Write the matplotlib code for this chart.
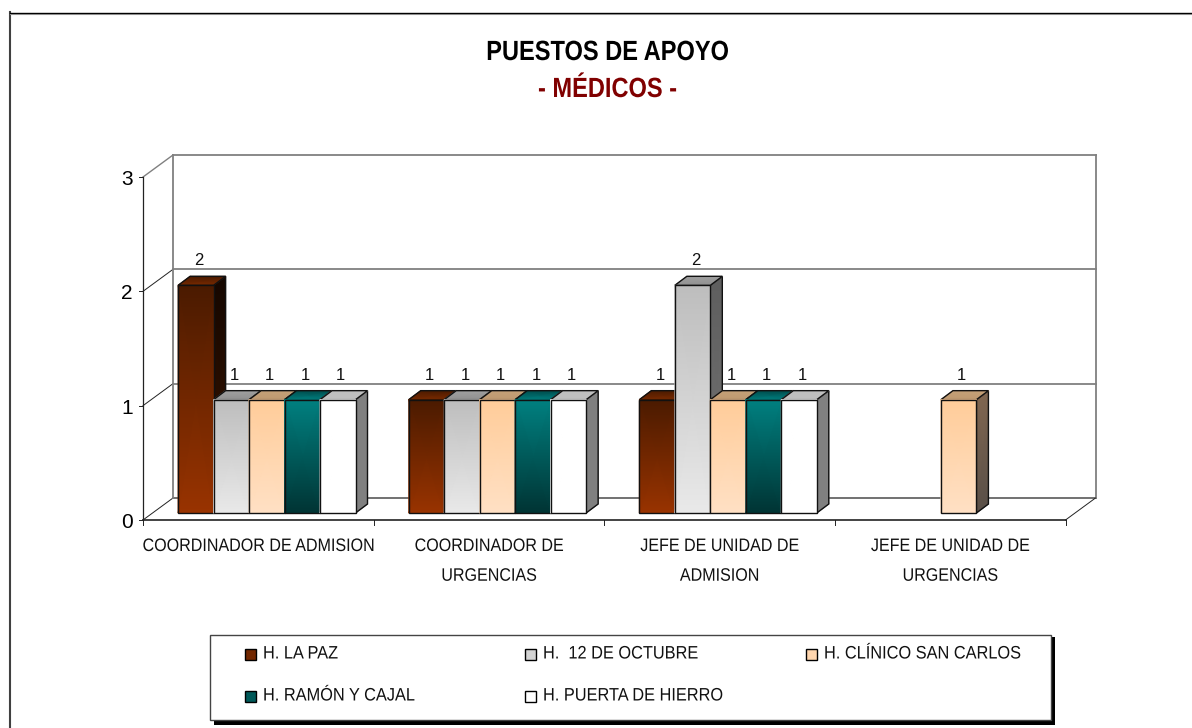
import numpy as np
import matplotlib
matplotlib.use('Agg')
import matplotlib.pyplot as plt
from matplotlib.colors import LinearSegmentedColormap
from matplotlib.patches import Polygon, Rectangle
from matplotlib.patheffects import AbstractPathEffect
from matplotlib.transforms import Affine2D, IdentityTransform, ScaledTranslation

plt.rcParams['font.family'] = ['Liberation Sans', 'DejaVu Sans']

categorias = ['COORDINADOR DE ADMISION', 'COORDINADOR DE\nURGENCIAS',
              'JEFE DE UNIDAD DE\nADMISION', 'JEFE DE UNIDAD DE\nURGENCIAS']
hospitales = ['H. LA PAZ', 'H.  12 DE OCTUBRE', 'H. CLÍNICO SAN CARLOS',
              'H. RAMÓN Y CAJAL', 'H. PUERTA DE HIERRO']
la_paz = [2, 1, 1, 0]
doce_octubre = [1, 1, 2, 0]
clinico = [1, 1, 1, 1]
ramon_cajal = [1, 1, 1, 0]
puerta_hierro = [1, 1, 1, 0]
series = [la_paz, doce_octubre, clinico, ramon_cajal, puerta_hierro]

# colores: frente (arriba, abajo), lado (arriba, abajo), tapa (atras, delante)
estilos = [
    (('#4a1a00', '#993300'), ('#160700', '#3a1400'), ('#4a1a00', '#7a2a00')),
    (('#bdbdbd', '#e9e9e9'), ('#5f5f5f', '#737373'), ('#a0a0a0', '#909090')),
    (('#ffcc99', '#ffe0c4'), ('#806650', '#5a5048'), ('#c4a078', '#bf9970')),
    (('#008080', '#003333'), ('#003f3f', '#001919'), ('#004a4a', '#008080')),
    (('#ffffff', '#ffffff'), ('#808080', '#808080'), ('#bfbfbf', '#bfbfbf')),
]

W, H = 1192, 728


class Estrecho(AbstractPathEffect):
    # letra estrecha: escala en x alrededor de xc (en pixeles)
    def __init__(self, xc, f):
        super().__init__()
        self.xc = xc
        self.f = f

    def draw_path(self, renderer, gc, tpath, affine, rgbFace=None):
        t = affine + Affine2D().translate(-self.xc, 0).scale(self.f, 1).translate(self.xc, 0)
        renderer.draw_path(gc, tpath, t, rgbFace)


fig = plt.figure(figsize=(W / 100, H / 100), dpi=100)

# marco: solo izquierda y arriba
fig.add_artist(plt.Line2D([10 / W, 10 / W], [0, 1 - 12 / H], color='#404040', lw=1.5))
fig.add_artist(plt.Line2D([10 / W, 1], [1 - 13.5 / H, 1 - 13.5 / H], color='#b0b0b0', lw=0.8))
fig.add_artist(plt.Line2D([10 / W, 1], [1 - 12.5 / H, 1 - 12.5 / H], color='black', lw=1))

ax = fig.add_axes([143 / W, 1 - 520 / H, 922.5 / W, 343 / H])
ax.set_xlim(0, 4)
ax.set_ylim(0, 3)
ax.axis('off')


def px(x, v, dx=0, dy=0):
    p = ax.transData.transform((x, v))
    return p[0] + dx, p[1] + dy


def linea(a, b, color, lw):
    ax.add_line(plt.Line2D([a[0], b[0]], [a[1], b[1]], color=color, lw=lw, zorder=1, clip_on=False,
                           transform=IdentityTransform(), solid_capstyle='projecting'))


def mover(dx, dy):
    return ScaledTranslation(dx / 100, dy / 100, fig.dpi_scale_trans)


# paredes
fondo = (30, 22)
gris = '#808080'
for v in range(4):
    linea(px(0, v, *fondo), px(4, v, *fondo), '#666666' if v == 0 else gris, 1.3)
    linea(px(0, v), px(0, v, *fondo), gris if v == 3 else '#222222', 1.0 if v == 3 else 0.7)
    linea(px(0, v), px(0, v, -4, 0), '#222222', 0.7)
    ax.text(0, v, str(v), transform=ax.transData + mover(-10, -2.5),
            ha='right', va='center', fontsize=15)
linea(px(0, 0, *fondo), px(0, 3, *fondo), gris, 1.3)
linea(px(4, 0, *fondo), px(4, 3, *fondo), gris, 1.3)
linea(px(0, 0), px(0, 3), '#222222', 0.9)
linea(px(4, 0), px(4, 0, *fondo), '#222222', 0.7)

# barras
ancho = 35.5 / (923 / 4)
desp = 8.5 / (923 / 4)
depth = (12, 9)
base = (0, 7)
for i, valores in enumerate(series):
    frente, lado, tapa = estilos[i]
    z = 3 + i
    for j, v in enumerate(valores):
        if v == 0:
            continue
        x0 = j + 0.5 + desp + (i - 2.5) * ancho
        x1 = x0 + ancho
        a = px(x0, 0, *base)
        b = px(x1, 0, *base)
        c = px(x1, v, 0, 6)
        d = px(x0, v, 0, 6)
        b2 = (b[0] + depth[0], b[1] + depth[1])
        c2 = (c[0] + depth[0], c[1] + depth[1])
        d2 = (d[0] + depth[0], d[1] + depth[1])
        caras = [([b, b2, c, c2], lado), ([d, c, d2, c2], tapa), ([a, b, d, c], frente)]
        for (p0, p1, p2, p3), cols in caras:
            cmap = LinearSegmentedColormap.from_list('c', [cols[1], cols[0]])
            X = np.array([[p0[0], p1[0]], [p2[0], p3[0]]])
            Y = np.array([[p0[1], p1[1]], [p2[1], p3[1]]])
            C = np.array([[0.0, 0.0], [1.0, 1.0]])
            ax.pcolormesh(X, Y, C, shading='gouraud', cmap=cmap, vmin=0, vmax=1,
                          transform=IdentityTransform(), clip_on=False, zorder=z)
            ax.add_patch(Polygon([p0, p1, p3, p2], closed=True, fill=False, ec='#111111', lw=1,
                                 transform=IdentityTransform(), clip_on=False, zorder=z))
        ax.text((x0 + x1) / 2, v, str(v), transform=ax.transData + mover(3, 23),
                ha='center', va='bottom', fontsize=12, color='#111111', zorder=10)

# eje x
linea(px(0, 0), px(4, 0), '#222222', 1.2)
for k in range(5):
    linea(px(k, 0), px(k, 0, 0, -5), '#222222', 0.7)
for k, nombre in enumerate(categorias):
    t = ax.text(k + 0.5, 0, nombre, transform=ax.get_xaxis_transform() + mover(0, -18),
                ha='center', va='top', fontsize=13, linespacing=1.98, color='#111111')
    t.set_path_effects([Estrecho(px(k + 0.5, 0)[0], 0.89)])

# titulo
titulo = fig.text(607.5 / W, 1 - 53 / H, 'PUESTOS DE APOYO', ha='center', va='center',
                  fontsize=20, fontweight='bold')
titulo.set_path_effects([Estrecho(607.5, 0.85)])
sub = fig.text(607.5 / W, 1 - 90 / H, '- MÉDICOS -', ha='center', va='center',
               fontsize=20, fontweight='bold', color='#800000')
sub.set_path_effects([Estrecho(607.5, 0.85)])

# leyenda
fig.add_artist(Rectangle((214 / W, 1 - 724.5 / H), 841.5 / W, 87.5 / H, fc='black', ec='black', lw=0,
                         transform=fig.transFigure))
fig.add_artist(Rectangle((209.5 / W, 1 - 719.5 / H), 841 / W, 85 / H, fc='white', ec='#444444', lw=1,
                         transform=fig.transFigure))
ley_x = [245, 525, 806]
ley_y = [654, 696]
for i, nombre in enumerate(hospitales):
    lx = ley_x[i % 3]
    ly = ley_y[i // 3]
    frente = estilos[i][0]
    cmap = LinearSegmentedColormap.from_list('c', [frente[0], frente[1]])
    fig.add_artist(Rectangle((lx / W, 1 - (ly + 6) / H), 11 / W, 11 / H, fc=cmap(0.5), ec='black', lw=1,
                             transform=fig.transFigure))
    t = fig.text((lx + 18) / W, 1 - ly / H, nombre, ha='left', va='center', fontsize=13,
                 color='#111111')
    t.set_path_effects([Estrecho(lx + 18, 0.905)])

fig.savefig('out.png', dpi=100, facecolor='white')
